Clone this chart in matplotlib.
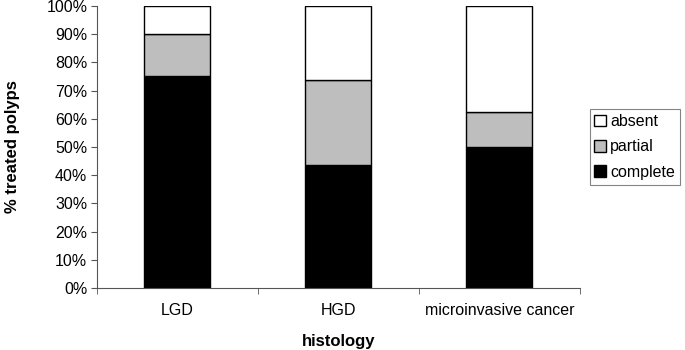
import matplotlib
matplotlib.use("Agg")
import matplotlib.pyplot as plt
import numpy as np
from matplotlib.ticker import PercentFormatter, FixedLocator

plt.rcParams['font.family'] = ['Liberation Sans', 'DejaVu Sans']

categories = ["LGD", "HGD", "microinvasive cancer"]
complete = [75.0, 43.5, 50.0]
partial = [15.0, 30.4, 12.5]
absent = [10.0, 26.1, 37.5]
series_names = ["complete", "partial", "absent"]
series_colors = ["#000000", "#bebebe", "#ffffff"]

fig = plt.figure(figsize=(6.85, 3.5), dpi=100)
ax = fig.add_axes([0.1416, 0.177, 0.7051, 0.806])

x = np.arange(len(categories))
bottom = np.zeros(len(categories))
handles = []
for name, vals, col in zip(series_names, [complete, partial, absent], series_colors):
    b = ax.bar(x, vals, bottom=bottom, width=0.41, color=col, edgecolor="black",
               linewidth=1.0, label=name)
    handles.append(b)
    bottom += np.array(vals)

ax.set_xlim(-0.5, len(categories) - 0.5)
ax.set_ylim(0, 100)
ax.yaxis.set_major_locator(FixedLocator(np.arange(0, 101, 10)))
ax.yaxis.set_major_formatter(PercentFormatter(decimals=0))
ax.set_xticks(x)
ax.set_xticklabels(categories)
ax.xaxis.set_minor_locator(FixedLocator(np.arange(-0.5, len(categories), 1.0)))
ax.tick_params(axis='x', which='major', length=0, pad=11, labelsize=11.5)
ax.tick_params(axis='x', which='minor', length=4, color="#555555", direction='out')
ax.tick_params(axis='y', length=4, color="#555555", labelsize=11.5, pad=3)

for s in ["top", "right"]:
    ax.spines[s].set_visible(False)
for s in ["left", "bottom"]:
    ax.spines[s].set_color("#555555")
    ax.spines[s].set_linewidth(0.8)

ax.set_ylabel("% treated polyps", fontsize=12, fontweight="bold", labelpad=19)
ax.set_xlabel("histology", fontsize=12, fontweight="bold", labelpad=11)

leg = ax.legend(handles[::-1], [h.get_label() for h in handles[::-1]],
                loc="center left", bbox_to_anchor=(1.02, 0.5), fontsize=11.5,
                frameon=True, fancybox=False, edgecolor="#666666",
                handlelength=0.75, handleheight=0.75, handletextpad=0.25,
                borderpad=0.3, labelspacing=0.65, borderaxespad=0)
leg.get_frame().set_linewidth(0.8)

fig.savefig("out.png", dpi=100)
